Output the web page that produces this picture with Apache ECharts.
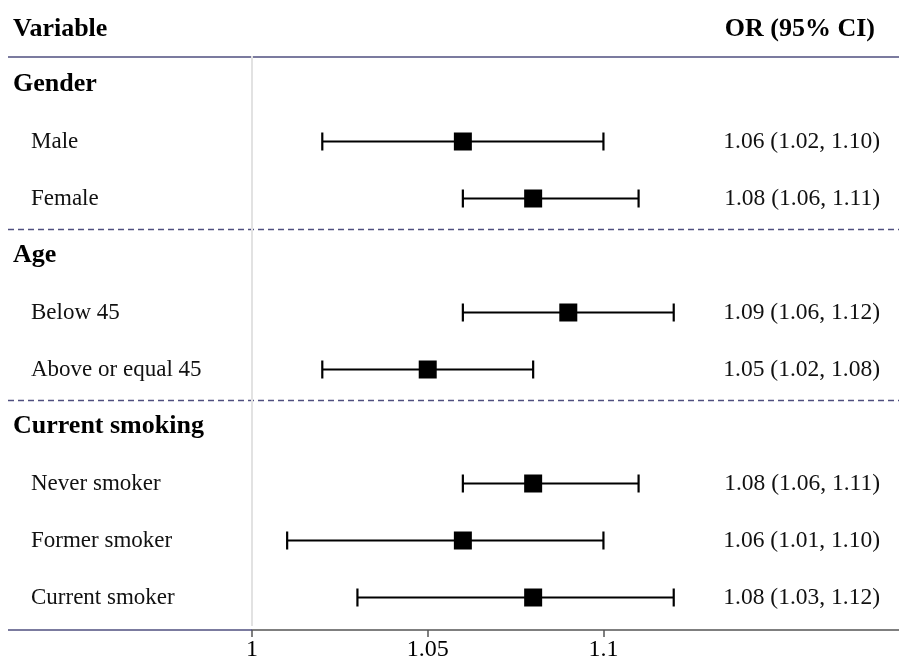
<!DOCTYPE html>
<html>
<head>
<meta charset="utf-8">
<script src="https://cdn.jsdelivr.net/npm/echarts@6/dist/echarts.min.js"></script>
<style>
  html, body { margin: 0; padding: 0; background: #fff; }
  #forestBox { width: 899px; height: 656px; }
</style>
</head>
<body>
<div id="forestBox"></div>
<script>
// rows of the table, top to bottom
const rowLabels = ['Gender', 'Male', 'Female', 'Age', 'Below 45', 'Above or equal 45',
  'Current smoking', 'Never smoker', 'Former smoker', 'Current smoker'];
const groupRows = ['Gender', 'Age', 'Current smoking'];
const orValues = [null, 1.06, 1.08, null, 1.09, 1.05, null, 1.08, 1.06, 1.08];
const lowerCI = [null, 1.02, 1.06, null, 1.06, 1.02, null, 1.06, 1.01, 1.03];
const upperCI = [null, 1.10, 1.11, null, 1.12, 1.08, null, 1.11, 1.10, 1.12];
const ciLabels = ['', '1.06 (1.02, 1.10)', '1.08 (1.06, 1.11)', '', '1.09 (1.06, 1.12)',
  '1.05 (1.02, 1.08)', '', '1.08 (1.06, 1.11)', '1.06 (1.01, 1.10)', '1.08 (1.03, 1.12)'];
const tickValues = [1, 1.05, 1.1];
const tickLabels = ['1', '1.05', '1.1'];
const headerLeft = 'Variable';
const headerRight = 'OR (95% CI)';

const FONT = "'Liberation Serif', 'Times New Roman', serif";
const NAVY = '#4f4f7f';

const barData = [], pointData = [];
rowLabels.forEach((name, i) => {
  if (orValues[i] == null) return;
  barData.push([lowerCI[i], upperCI[i], i]);
  pointData.push([orValues[i], i]);
});
const groupIdx = rowLabels.map((n, i) => groupRows.includes(n) ? i : -1).filter(i => i >= 0);

const myChart = echarts.init(document.getElementById('forestBox'));
const option = {
  animation: false,
  textStyle: { fontFamily: FONT },
  graphic: [
    { type: 'text', left: 13, top: 16, style: { text: headerLeft, font: 'bold 26px ' + FONT, fill: '#000' } },
    { type: 'text', right: 24, top: 16, style: { text: headerRight, font: 'bold 26px ' + FONT, fill: '#000' } }
  ],
  grid: { left: 252, right: 0, top: 56, bottom: 30, outerBoundsMode: 'none', containLabel: false },
  xAxis: {
    type: 'value',
    min: 1,
    max: 1.1841,
    offset: 4,
    axisLine: { show: true, lineStyle: { color: '#555', width: 1.5 } },
    axisTick: { show: true, customValues: tickValues, length: 7, lineStyle: { color: '#555', width: 1.5 } },
    axisLabel: {
      customValues: tickValues,
      margin: 8,
      fontSize: 24,
      fontFamily: FONT,
      color: '#000',
      formatter: v => tickLabels[tickValues.indexOf(v)] ?? ''
    },
    splitLine: { show: false }
  },
  yAxis: [
    {
      type: 'category',
      data: rowLabels,
      inverse: true,
      axisLine: { show: false },
      axisTick: { show: false },
      axisLabel: {
        align: 'left',
        margin: 239,
        formatter: v => groupRows.includes(v) ? '{g|' + v + '}' : '{i|' + v + '}',
        rich: {
          g: { fontFamily: FONT, fontSize: 26, fontWeight: 'bold', color: '#000' },
          i: { fontFamily: FONT, fontSize: 23, color: '#111', padding: [0, 0, 0, 18] }
        }
      }
    },
    {
      type: 'category',
      data: rowLabels,
      inverse: true,
      position: 'right',
      axisLine: { show: false },
      axisTick: { show: false },
      axisLabel: {
        inside: true,
        margin: 19,
        align: 'right',
        fontFamily: FONT,
        fontSize: 23.5,
        color: '#111',
        formatter: (v, i) => ciLabels[i]
      }
    }
  ],
  series: [
    {
      name: 'table lines',
      type: 'custom',
      clip: false,
      silent: true,
      data: [[1, 0]],
      renderItem: (params, api) => {
        const band = api.size([0, 1])[1];
        const top = i => api.coord([1, i])[1] - band / 2;
        const gridLeft = api.coord([1, 0])[0];
        const children = [];
        children.push({ type: 'line', shape: { x1: 8, y1: top(0) + 1, x2: 899, y2: top(0) + 1 },
          style: { stroke: NAVY, lineWidth: 1.5 } });
        groupIdx.slice(1).forEach(g => {
          children.push({ type: 'line', shape: { x1: 8, y1: top(g) + 2.5, x2: 899, y2: top(g) + 2.5 },
            style: { stroke: NAVY, lineWidth: 1.5, lineDash: [6, 4] } });
        });
        const yb = top(rowLabels.length - 1) + band + 4;
        children.push({ type: 'line', shape: { x1: 8, y1: yb, x2: gridLeft, y2: yb },
          style: { stroke: NAVY, lineWidth: 1.5 } });
        return { type: 'group', children };
      }
    },
    {
      name: 'CI',
      type: 'custom',
      silent: true,
      encode: { x: [0, 1], y: 2 },
      data: barData,
      renderItem: (params, api) => {
        const p1 = api.coord([api.value(0), api.value(2)]);
        const p2 = api.coord([api.value(1), api.value(2)]);
        const cap = 9;
        const style = { stroke: '#000', lineWidth: 2.2 };
        return {
          type: 'group',
          children: [
            { type: 'line', shape: { x1: p1[0], y1: p1[1], x2: p2[0], y2: p2[1] }, style },
            { type: 'line', shape: { x1: p1[0], y1: p1[1] - cap, x2: p1[0], y2: p1[1] + cap }, style },
            { type: 'line', shape: { x1: p2[0], y1: p2[1] - cap, x2: p2[0], y2: p2[1] + cap }, style }
          ]
        };
      }
    },
    {
      name: 'OR',
      type: 'scatter',
      symbol: 'rect',
      symbolSize: 18,
      itemStyle: { color: '#000', opacity: 1 },
      z: 5,
      data: pointData,
      markLine: {
        silent: true,
        symbol: ['none', 'none'],
        label: { show: false },
        lineStyle: { color: '#e2e2e2', type: 'solid', width: 2 },
        data: [{ xAxis: 1 }]
      }
    }
  ]
};
myChart.setOption(option);
</script>
</body>
</html>
